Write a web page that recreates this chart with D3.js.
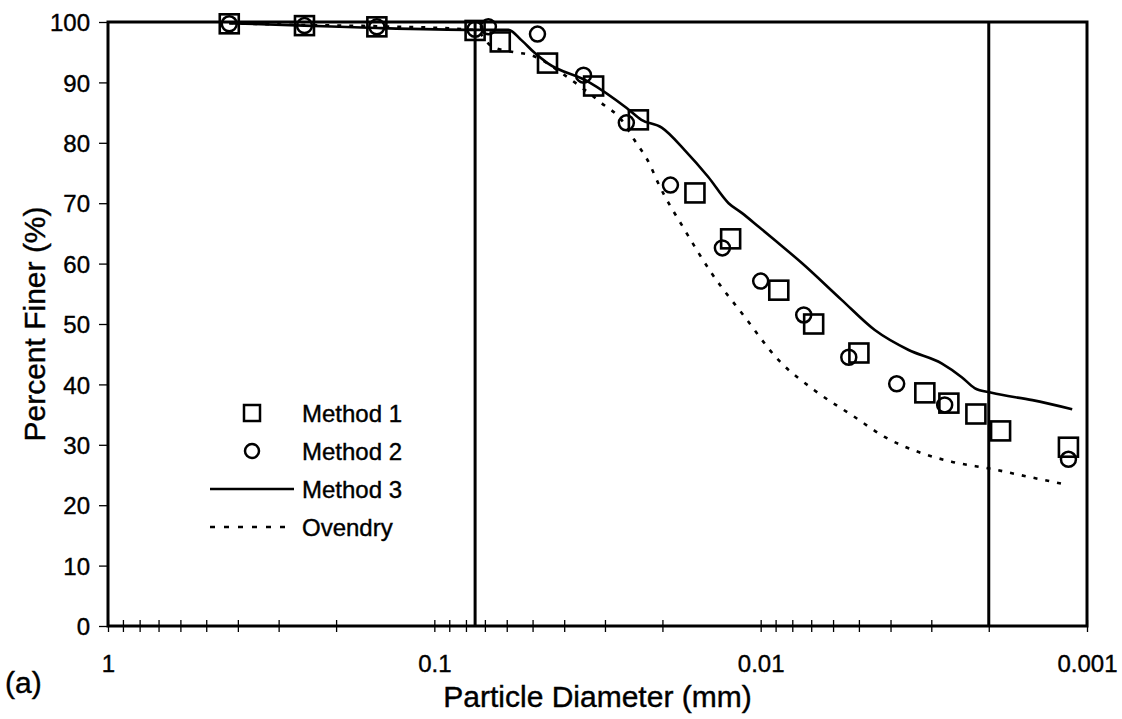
<!DOCTYPE html>
<html>
<head>
<meta charset="utf-8">
<script src="https://cdn.jsdelivr.net/npm/d3@7"></script>
<style>
  body { margin: 0; background: #fff; }
  svg { font-family: "Liberation Sans", Arial, sans-serif; }
  text { stroke: #000; stroke-width: 0.4px; }
</style>
</head>
<body>
<div id="chart"></div>
<script>
// particle size (mm) and percent finer
var m1Size = [0.425, 0.25, 0.15, 0.075, 0.0628, 0.045, 0.0325, 0.0237, 0.0159, 0.01236, 0.0088, 0.00688, 0.0050, 0.00314, 0.00265, 0.00219, 0.00184, 0.00114];
var m1Pct  = [99.7, 99.4, 99.2, 98.6, 96.7, 93.2, 89.4, 83.8, 71.7, 64.1, 55.6, 50.0, 45.2, 38.6, 36.9, 35.1, 32.3, 29.6];

var m2Size = [0.425, 0.25, 0.15, 0.075, 0.0683, 0.0483, 0.0349, 0.0258, 0.0189, 0.0131, 0.0100, 0.00738, 0.00537, 0.00383, 0.00273, 0.00114];
var m2Pct  = [99.7, 99.4, 99.2, 98.8, 99.2, 98.0, 91.2, 83.3, 73.0, 62.6, 57.1, 51.5, 44.5, 40.1, 36.6, 27.6];

var m3Size = [0.425, 0.25, 0.15, 0.075, 0.0593, 0.0541, 0.0493, 0.045, 0.0337, 0.0258, 0.0232, 0.0201, 0.0171, 0.01445, 0.01254, 0.01143, 0.01014, 0.00906, 0.00748, 0.00565, 0.00447, 0.00352, 0.00279, 0.00242, 0.00221, 0.00196, 0.00147, 0.00111];
var m3Pct  = [99.8, 99.4, 99.0, 98.7, 98.7, 97.0, 94.9, 93.2, 90.1, 85.8, 83.8, 82.5, 78.8, 74.3, 70.0, 68.4, 66.1, 63.9, 60.1, 54.0, 49.0, 45.7, 43.5, 41.2, 39.4, 38.6, 37.4, 35.9];

var ovSize = [0.425, 0.25, 0.15, 0.075, 0.0668, 0.0568, 0.0504, 0.0399, 0.0308, 0.0267, 0.0244, 0.0219, 0.0206, 0.0171, 0.01413, 0.0112, 0.00881, 0.00683, 0.00515, 0.00417, 0.00328, 0.0026, 0.00196, 0.00151, 0.00118];
var ovPct  = [99.8, 99.5, 99.3, 98.7, 96.0, 95.0, 94.5, 91.2, 86.6, 83.8, 80.5, 76.5, 73.3, 65.6, 58.4, 51.2, 44.0, 39.0, 34.6, 31.3, 28.8, 27.2, 26.0, 24.7, 23.5];

// vertical reference lines
var refSizes = [0.075, 0.002];

var yTicks = [0, 10, 20, 30, 40, 50, 60, 70, 80, 90, 100];
var xMajor = [1, 0.1, 0.01, 0.001];

var legendNames = ["Method 1", "Method 2", "Method 3", "Ovendry"];

var width = 1122;
var height = 719;

var pLeft = 108, pRight = 1087, pTop = 22, pBottom = 626;

var svg = d3.select("#chart")
  .append("svg")
  .attr("width", width)
  .attr("height", height);

var xScale = d3.scaleLog().domain([1, 0.001]).range([pLeft, pRight]);
var yScale = d3.scaleLinear().domain([0, 100]).range([pBottom, pTop]);

// log ticks: each power of ten plus 9..2 x the next decade down
var xTickVals = [];
xMajor.forEach(function(p, i) {
  xTickVals.push(p);
  if (i === xMajor.length - 1) return;
  for (var k = 9; k >= 2; k--) {
    xTickVals.push(+(p / 10 * k).toPrecision(3));
  }
});

// x axis
var xAxis = d3.axisBottom(xScale)
  .tickValues(xTickVals)
  .tickSize(6)
  .tickPadding(0)
  .tickFormat(function(d) {
    return xMajor.indexOf(d) >= 0 ? String(d) : "";
  });

var gx = svg.append("g")
  .attr("class", "xAxis")
  .attr("transform", "translate(0," + pBottom + ")")
  .call(xAxis);
gx.select(".domain").remove();
gx.selectAll(".tick line")
  .attr("y1", -6).attr("y2", 6)
  .attr("stroke", "#000").attr("stroke-width", 1.3);
gx.selectAll(".tick text")
  .attr("y", 46)
  .attr("dy", 0)
  .attr("font-size", 24)
  .attr("fill", "#000");

// y axis
var yAxis = d3.axisLeft(yScale)
  .tickValues(yTicks)
  .tickSize(9)
  .tickPadding(9);

var gy = svg.append("g")
  .attr("class", "yAxis")
  .attr("transform", "translate(" + pLeft + ",0)")
  .call(yAxis);
gy.select(".domain").remove();
gy.selectAll(".tick line").attr("stroke", "#000").attr("stroke-width", 1.3);
gy.selectAll(".tick text")
  .attr("font-size", 24)
  .attr("dy", "0.36em")
  .attr("fill", "#000");

// frame
svg.append("rect")
  .attr("x", pLeft).attr("y", pTop)
  .attr("width", pRight - pLeft).attr("height", pBottom - pTop)
  .attr("fill", "none")
  .attr("stroke", "#000")
  .attr("stroke-width", 3);

// reference lines
svg.selectAll(".refLine")
  .data(refSizes)
  .enter()
  .append("line")
  .attr("class", "refLine")
  .attr("x1", function(d) { return xScale(d); })
  .attr("x2", function(d) { return xScale(d); })
  .attr("y1", pTop).attr("y2", pBottom)
  .attr("stroke", "#000")
  .attr("stroke-width", 3);

var line = d3.line()
  .x(function(d) { return xScale(d[0]); })
  .y(function(d) { return yScale(d[1]); })
  .curve(d3.curveMonotoneX);

// ovendry dashed
svg.append("path")
  .datum(d3.zip(ovSize, ovPct))
  .attr("d", line)
  .attr("fill", "none")
  .attr("stroke", "#000")
  .attr("stroke-width", 2.6)
  .attr("stroke-dasharray", "4,8");

// method 3 solid
svg.append("path")
  .datum(d3.zip(m3Size, m3Pct))
  .attr("d", line)
  .attr("fill", "none")
  .attr("stroke", "#000")
  .attr("stroke-width", 2.6);

// method 2 circles
svg.selectAll(".m2")
  .data(d3.zip(m2Size, m2Pct))
  .enter()
  .append("circle")
  .attr("class", "m2")
  .attr("cx", function(d) { return xScale(d[0]); })
  .attr("cy", function(d) { return yScale(d[1]); })
  .attr("r", 7.5)
  .attr("fill", "none")
  .attr("stroke", "#000")
  .attr("stroke-width", 2.5);

// method 1 squares
var sq = 19;
svg.selectAll(".m1")
  .data(d3.zip(m1Size, m1Pct))
  .enter()
  .append("rect")
  .attr("class", "m1")
  .attr("x", function(d) { return xScale(d[0]) - sq / 2; })
  .attr("y", function(d) { return yScale(d[1]) - sq / 2; })
  .attr("width", sq).attr("height", sq)
  .attr("fill", "none")
  .attr("stroke", "#000")
  .attr("stroke-width", 2.6);

// legend
var legend = svg.append("g").attr("transform", "translate(252,413)");
var rowH = 38;

legend.append("rect")
  .attr("x", -8).attr("y", -8)
  .attr("width", 16).attr("height", 16)
  .attr("fill", "none").attr("stroke", "#000").attr("stroke-width", 2.5);
legend.append("circle")
  .attr("cx", 0).attr("cy", rowH)
  .attr("r", 7)
  .attr("fill", "none").attr("stroke", "#000").attr("stroke-width", 2.5);
legend.append("line")
  .attr("x1", -42).attr("x2", 42)
  .attr("y1", rowH * 2).attr("y2", rowH * 2)
  .attr("stroke", "#000").attr("stroke-width", 2.6);
legend.append("line")
  .attr("x1", -42).attr("x2", 42)
  .attr("y1", rowH * 3).attr("y2", rowH * 3)
  .attr("stroke", "#000").attr("stroke-width", 2.6)
  .attr("stroke-dasharray", "5,9");

legend.selectAll(".legText")
  .data(legendNames)
  .enter()
  .append("text")
  .attr("class", "legText")
  .attr("x", 50)
  .attr("y", function(d, i) { return i * rowH + 9; })
  .attr("font-size", 24)
  .text(function(d) { return d; });

// axis titles
svg.append("text")
  .attr("x", (pLeft + pRight) / 2)
  .attr("y", 707)
  .attr("text-anchor", "middle")
  .attr("font-size", 30)
  .text("Particle Diameter (mm)");

svg.append("text")
  .attr("transform", "translate(45," + ((pTop + pBottom) / 2) + ")rotate(-90)")
  .attr("text-anchor", "middle")
  .attr("font-size", 30)
  .text("Percent Finer (%)");

svg.append("text")
  .attr("x", 5)
  .attr("y", 693)
  .attr("font-size", 30)
  .text("(a)");
</script>
</body>
</html>
